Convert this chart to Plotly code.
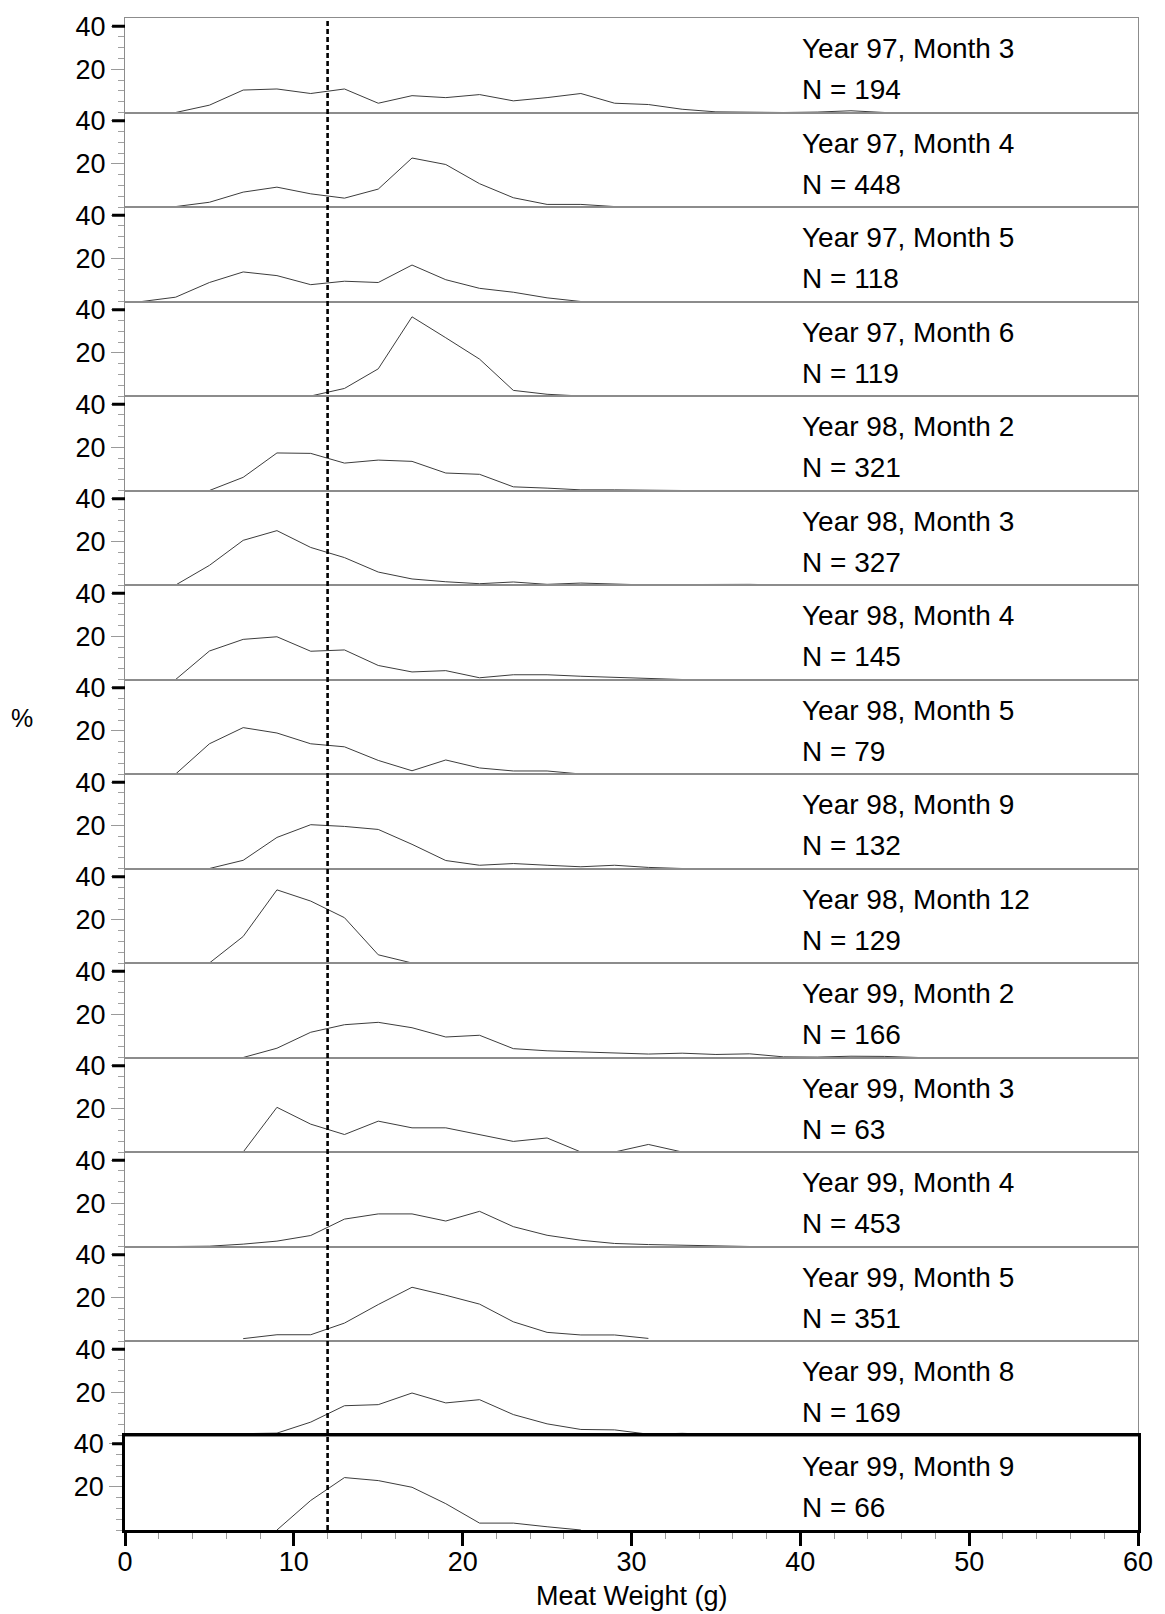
import plotly.graph_objects as go
from plotly.subplots import make_subplots

# Sampling occasions, sample sizes and the first 2 g size class drawn for each
samples = [
    "Year 97, Month 3", "Year 97, Month 4", "Year 97, Month 5", "Year 97, Month 6",
    "Year 98, Month 2", "Year 98, Month 3", "Year 98, Month 4", "Year 98, Month 5",
    "Year 98, Month 9", "Year 98, Month 12", "Year 99, Month 2", "Year 99, Month 3",
    "Year 99, Month 4", "Year 99, Month 5", "Year 99, Month 8", "Year 99, Month 9",
]
sample_sizes = [194, 448, 118, 119, 321, 327, 145, 79, 132, 129, 166, 63, 453, 351, 169, 66]
first_bin = [3, 1, 1, 11, 5, 3, 3, 3, 5, 5, 7, 7, 3, 7, 5, 9]

# Percentage of animals per 2 g meat-weight class (class midpoints 1, 3, 5, ...)
pct_97_03 = [0, 3.4, 10.4, 10.9, 8.8, 10.9, 4.3, 7.8, 6.9, 8.3, 5.4, 6.9, 8.8, 4.3, 3.7, 1.5, 0.3, 0, 0, 0.2, 0.8, 0]
pct_97_04 = [0, 0.2, 2.2, 6.9, 9.2, 6.1, 4.1, 8.3, 22.7, 19.7, 10.8, 4.3, 1.2, 1.2, 0.2, 0.2, 0.2, 0.1, 0]
pct_97_05 = [0, 2.0, 8.8, 13.7, 12.0, 7.8, 9.4, 8.8, 16.9, 10.1, 6.1, 4.3, 1.7, 0]
pct_97_06 = [0, 3.5, 12.6, 36.7, 27.0, 17.1, 2.6, 0.8, 0]
pct_98_02 = [0, 6.1, 17.4, 17.2, 12.7, 14.1, 13.5, 8.1, 7.5, 1.7, 1.1, 0.3, 0.3, 0.2, 0]
pct_98_03 = [0, 9.1, 20.7, 25.2, 17.4, 12.7, 6.0, 2.8, 1.5, 0.6, 1.4, 0.3, 0.9, 0.3, 0, 0.2, 0.3, 0.3, 0]
pct_98_04 = [0, 13.2, 18.6, 19.8, 13.1, 13.7, 6.5, 3.5, 4.1, 0.8, 2.2, 2.2, 1.5, 0.9, 0.6, 0]
pct_98_05 = [0, 14.0, 21.5, 19.0, 14.0, 12.6, 6.3, 1.5, 6.5, 2.8, 1.4, 1.4, 0]
pct_98_09 = [0, 3.8, 14.4, 20.3, 19.5, 18.1, 11.2, 3.7, 1.5, 2.3, 1.5, 0.8, 1.5, 0.5, 0]
pct_98_12 = [0, 12.3, 33.9, 28.7, 21.0, 3.8, 0]
pct_99_02 = [0, 4.3, 11.7, 15.2, 16.3, 13.8, 9.5, 10.3, 4.1, 3.1, 2.6, 2.2, 1.6, 2.0, 1.4, 1.7, 0.3, 0.2, 0.6, 0.5, 0]
pct_99_03 = [0, 20.7, 12.9, 8.1, 14.3, 11.2, 11.2, 8.1, 4.9, 6.5, 0, 0, 3.5, 0]
pct_99_04 = [0, 0.15, 1.1, 2.5, 5.1, 12.7, 15.1, 15.1, 11.8, 16.3, 9.2, 5.2, 2.9, 1.4, 0.9, 0.5, 0.3, 0]
pct_99_05 = [1.1, 2.9, 2.9, 8.3, 16.9, 24.9, 21.2, 17.1, 8.9, 4.0, 2.8, 2.8, 1.2]
pct_99_08 = [0.6, 1.0, 1.1, 6.2, 13.8, 14.3, 19.7, 15.1, 16.6, 9.7, 5.4, 2.8, 2.6, 0.6, 1.0, 0.5]
pct_99_09 = [0, 13.7, 24.3, 22.9, 19.8, 12.2, 3.2, 3.2, 1.5, 0]

percent_series = [
    pct_97_03, pct_97_04, pct_97_05, pct_97_06,
    pct_98_02, pct_98_03, pct_98_04, pct_98_05,
    pct_98_09, pct_98_12, pct_99_02, pct_99_03,
    pct_99_04, pct_99_05, pct_99_08, pct_99_09,
]

size_cutoff = 12          # reference meat weight (g), dashed line
x_tick_values = [0, 10, 20, 30, 40, 50, 60]
y_tick_values = [20, 40]

FONT = "Liberation Sans, Arial, Helvetica, sans-serif"
W, H = 1165, 1614
M_L, M_R, M_T, M_B = 125, 22, 12, 84
PLOT_W = W - M_L - M_R
PLOT_H = H - M_T - M_B
Y_TOP = 43.8

n = len(samples)
fig = make_subplots(rows=n, cols=1, shared_xaxes=True, vertical_spacing=0)

for i, (vals, start) in enumerate(zip(percent_series, first_bin)):
    xs = [start + 2 * k for k in range(len(vals))]
    fig.add_trace(
        go.Scatter(x=xs, y=vals, mode="lines",
                   line=dict(color="#3c3c3c", width=1),
                   showlegend=False, hoverinfo="skip"),
        row=i + 1, col=1,
    )

shapes = []
annotations = []
for i in range(n):
    row = i + 1
    last = row == n
    frame_color = "black" if last else "#8c8c8c"
    frame_w = 2.5 if last else 1
    fig.update_yaxes(
        row=row, col=1, range=[0, Y_TOP],
        tickvals=y_tick_values, ticktext=[str(v) for v in y_tick_values],
        ticks="outside", ticklen=13, tickwidth=1, tickcolor="#9a9a9a",
        minor=dict(tick0=0, dtick=5, ticks="outside",
                   ticklen=6, tickwidth=1, tickcolor="#a0a0a0"),
        tickfont=dict(family=FONT, size=27, color="black"),
        showgrid=False, zeroline=False,
        showline=True, mirror=True, linecolor=frame_color, linewidth=frame_w,
    )
    xa = dict(range=[0, 60], showgrid=False, zeroline=False,
              showline=True, mirror=True, linecolor=frame_color, linewidth=frame_w)
    if last:
        xa.update(tickvals=x_tick_values, ticks="outside", ticklen=13, tickwidth=2.5,
                  tickcolor="black", showticklabels=True, ticklabelstandoff=-7,
                  tickfont=dict(family=FONT, size=27, color="black"),
                  minor=dict(dtick=2, ticks="outside", ticklen=6, tickwidth=1,
                             tickcolor="#9a9a9a"))
    else:
        xa.update(ticks="", showticklabels=False)
    fig.update_xaxes(row=row, col=1, **xa)

    yref = "y" if row == 1 else f"y{row}"
    xref = "x" if row == 1 else f"x{row}"
    # heavy tick at 40 on every panel
    shapes.append(dict(type="line", xref="paper", yref=yref,
                       x0=-13 / PLOT_W, x1=0, y0=40, y1=40,
                       line=dict(color="black", width=3), layer="above"))
    annotations.append(dict(xref=xref, yref=yref, x=40, y=29.5, text=samples[i],
                            showarrow=False, xanchor="left", yanchor="middle",
                            font=dict(family=FONT, size=28, color="black")))
    annotations.append(dict(xref=xref, yref=yref, x=40, y=10.6,
                            text=f"N = {sample_sizes[i]}",
                            showarrow=False, xanchor="left", yanchor="middle",
                            font=dict(family=FONT, size=28, color="black")))

# dashed reference line through every panel
shapes.append(dict(type="line", xref="x", yref="paper", x0=size_cutoff, x1=size_cutoff,
                   y0=0, y1=1, line=dict(color="black", width=2.6, dash="5px,3px"),
                   layer="above"))

annotations.append(dict(xref="paper", yref="paper", x=(21 - M_L) / PLOT_W,
                        y=(M_T + PLOT_H - 715) / PLOT_H, text="%", showarrow=False,
                        xanchor="center", yanchor="middle",
                        font=dict(family=FONT, size=25, color="black")))
annotations.append(dict(xref="paper", yref="paper", x=0.5,
                        y=-(1596 - (M_T + PLOT_H)) / PLOT_H, text="Meat Weight (g)",
                        showarrow=False, xanchor="center", yanchor="middle",
                        font=dict(family=FONT, size=27, color="black")))

fig.update_layout(
    width=W, height=H,
    margin=dict(l=M_L, r=M_R, t=M_T, b=M_B, pad=0),
    paper_bgcolor="white", plot_bgcolor="white",
    font=dict(family=FONT, color="black"),
    shapes=shapes, annotations=annotations,
    showlegend=False,
)

fig.write_html("out.html", config={"displayModeBar": False})
